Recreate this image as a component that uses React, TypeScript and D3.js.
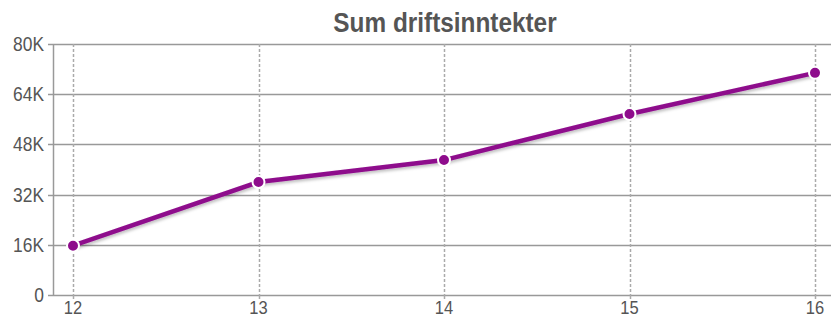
import React, { useEffect, useRef } from "react";
import * as d3 from "d3";

const categories = ["12", "13", "14", "15", "16"];
const values = [15700, 36000, 43000, 57700, 70800];
const yTicks = [0, 16000, 32000, 48000, 64000, 80000];
const title = "Sum driftsinntekter";

const W = 831;
const H = 319;
const M = { left: 53, right: 0, top: 44, bottom: 24 };
const SX = 0.87;

export default function App() {
  const ref = useRef<SVGSVGElement>(null);
  useEffect(() => {
    const svg = d3.select(ref.current);
    svg.selectAll("*").remove();
    const x = d3.scalePoint().domain(categories).range([73, 815]);
    const y = d3.scaleLinear().domain([0, 80000]).range([H - M.bottom, M.top]);
    const font = "'Liberation Sans', Arial, sans-serif";

    const defs = svg.append("defs");
    const f = defs.append("filter").attr("id", "sh").attr("x", "-10%").attr("y", "-50%").attr("width", "120%").attr("height", "200%");
    f.append("feDropShadow").attr("dx", 1).attr("dy", 2).attr("stdDeviation", 1.5).attr("flood-color", "#000").attr("flood-opacity", 0.25);

    svg.append("text").attr("transform", `translate(445,32) scale(${SX},1)`).attr("text-anchor", "middle")
      .attr("font-family", font).attr("font-weight", "bold").attr("font-size", 28).attr("fill", "#555").text(title);

    // horizontal grid
    svg.append("g").selectAll("line").data(yTicks).join("line")
      .attr("x1", M.left).attr("x2", W).attr("y1", d => Math.round(y(d)) + 0.5).attr("y2", d => Math.round(y(d)) + 0.5)
      .attr("stroke", "#999").attr("stroke-width", 1.5);
    // vertical dashed grid
    svg.append("g").selectAll("line").data(categories).join("line")
      .attr("x1", d => Math.round(x(d)!) + 0.5).attr("x2", d => Math.round(x(d)!) + 0.5)
      .attr("y1", M.top).attr("y2", H - M.bottom)
      .attr("stroke", "#aaa").attr("stroke-width", 1.5).attr("stroke-dasharray", "3,2");
    // x ticks below axis
    svg.append("g").selectAll("line").data(categories).join("line")
      .attr("x1", d => Math.round(x(d)!) + 0.5).attr("x2", d => Math.round(x(d)!) + 0.5)
      .attr("y1", H - M.bottom).attr("y2", H - M.bottom + 4)
      .attr("stroke", "#aaa").attr("stroke-width", 1.5);
    // y axis line + ticks
    svg.append("line").attr("x1", M.left + 0.5).attr("x2", M.left + 0.5).attr("y1", M.top).attr("y2", H - M.bottom + 1)
      .attr("stroke", "#999").attr("stroke-width", 1.5);
    svg.append("g").selectAll("line").data(yTicks).join("line")
      .attr("x1", M.left - 5).attr("x2", M.left).attr("y1", d => Math.round(y(d)) + 0.5).attr("y2", d => Math.round(y(d)) + 0.5)
      .attr("stroke", "#999").attr("stroke-width", 1.5);
    svg.append("g").selectAll("text").data(yTicks).join("text")
      .attr("transform", d => `translate(44,${y(d) + 7}) scale(${SX},1)`).attr("text-anchor", "end")
      .attr("font-family", font).attr("font-size", 20).attr("fill", "#555")
      .text(d => (d === 0 ? "0" : d / 1000 + "K"));
    svg.append("g").selectAll("text").data(categories).join("text")
      .attr("transform", d => `translate(${x(d)},314) scale(${SX},1)`).attr("text-anchor", "middle")
      .attr("font-family", font).attr("font-size", 19).attr("fill", "#555").text(d => d);

    const line = d3.line<number>().x((_, i) => x(categories[i])!).y(d => y(d));
    svg.append("path").datum(values).attr("d", line).attr("fill", "none")
      .attr("stroke", "#8e0c8c").attr("stroke-width", 4.5).attr("filter", "url(#sh)");
    svg.append("g").selectAll("circle").data(values).join("circle")
      .attr("cx", (_, i) => x(categories[i])!).attr("cy", d => y(d)).attr("r", 6)
      .attr("fill", "#8e0c8c").attr("stroke", "#fff").attr("stroke-width", 2);
  }, []);
  return (
    <svg ref={ref} width={W} height={H} style={{ position: "absolute", left: 0, top: 0, background: "#fff" }} />
  );
}
